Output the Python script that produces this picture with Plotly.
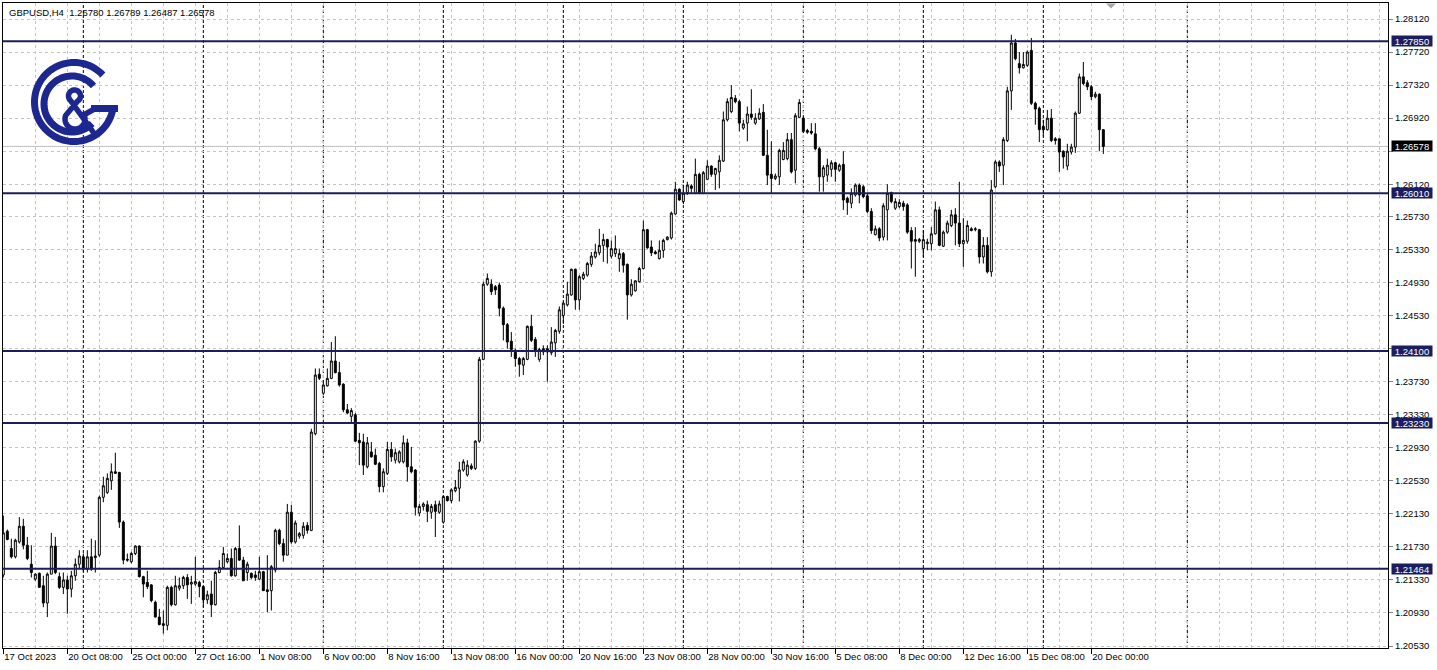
import numpy as np
import plotly.graph_objects as go

# ---------------- data ----------------
chart_title = "GBPUSD,H4\u00a0\u00a01.26780 1.26789 1.26487 1.26578"

opens = [
    1.2139, 1.2192, 1.2171, 1.2161, 1.2179, 1.2198, 1.2175, 1.2152, 1.2134, 1.2141,
    1.2126, 1.2105, 1.2140, 1.2174, 1.2137, 1.2124, 1.2133, 1.2122, 1.2138, 1.2152,
    1.2161, 1.2146, 1.2161, 1.2160, 1.2163, 1.2233, 1.2239, 1.2253, 1.2264, 1.2263,
    1.2203, 1.2158, 1.2155, 1.2165, 1.2174, 1.2137, 1.2130, 1.2127, 1.2106, 1.2088,
    1.2080, 1.2078, 1.2124, 1.2103, 1.2123, 1.2126, 1.2136, 1.2128, 1.2128, 1.2130,
    1.2125, 1.2109, 1.2116, 1.2103, 1.2142, 1.2148, 1.2155, 1.2159, 1.2138, 1.2171,
    1.2157, 1.2142, 1.2141, 1.2139, 1.2134, 1.2143, 1.2121, 1.2120, 1.2145, 1.2193,
    1.2177, 1.2163, 1.2215, 1.2179, 1.2186, 1.2187, 1.2199, 1.2193, 1.2310, 1.2382,
    1.2359, 1.2368, 1.2377, 1.2398, 1.2384, 1.2370, 1.2339, 1.2331, 1.2333, 1.2302,
    1.2300, 1.2270, 1.2288, 1.2284, 1.2274, 1.2246, 1.2262, 1.2291, 1.2278, 1.2276,
    1.2276, 1.2299, 1.2270, 1.2266, 1.2214, 1.2222, 1.2224, 1.2215, 1.2224, 1.2215,
    1.2203, 1.2234, 1.2229, 1.2241, 1.2244, 1.2266, 1.2260, 1.2271, 1.2268, 1.2301,
    1.2400, 1.2491, 1.2491, 1.2488, 1.2490, 1.2462, 1.2442, 1.2422, 1.2411, 1.2401,
    1.2393, 1.2400, 1.2440, 1.2424, 1.2400, 1.2409, 1.2413, 1.2408, 1.2420, 1.2434,
    1.2453, 1.2466, 1.2478, 1.2509, 1.2472, 1.2498, 1.2502, 1.2515, 1.2524, 1.2529,
    1.2538, 1.2545, 1.2525, 1.2528, 1.2522, 1.2528, 1.2515, 1.2478, 1.2483, 1.2494,
    1.2510, 1.2557, 1.2536, 1.2530, 1.2522, 1.2532, 1.2545, 1.2547, 1.2576, 1.2606,
    1.2591, 1.2602, 1.2610, 1.2601, 1.2624, 1.2601, 1.2618, 1.2634, 1.2624, 1.2627,
    1.2640, 1.2690, 1.2700, 1.2716, 1.2712, 1.2680, 1.2686, 1.2697, 1.2686, 1.2691,
    1.2699, 1.2647, 1.2624, 1.2619, 1.2621, 1.2642, 1.2643, 1.2666, 1.2629, 1.2693,
    1.2692, 1.2677, 1.2676, 1.2673, 1.2655, 1.2621, 1.2623, 1.2630, 1.2638, 1.2629,
    1.2636, 1.2595, 1.2589, 1.2599, 1.2611, 1.2609, 1.2598, 1.2579, 1.2551, 1.2558,
    1.2548, 1.2581, 1.2602, 1.2583, 1.2585, 1.2589, 1.2587, 1.2556, 1.2545, 1.2543,
    1.2534, 1.2540, 1.2540, 1.2552, 1.2581, 1.2537, 1.2554, 1.2562, 1.2575, 1.2565,
    1.2540, 1.2543, 1.2558, 1.2557, 1.2557, 1.2524, 1.2538, 1.2506, 1.2609, 1.2639,
    1.2635, 1.2665, 1.2725, 1.2783, 1.2758, 1.2753, 1.2756, 1.2774, 1.2710, 1.2704,
    1.2682, 1.2678, 1.2692, 1.2667, 1.2667, 1.2652, 1.2634, 1.2651, 1.2657, 1.2698,
    1.2742, 1.2735, 1.2730, 1.2718, 1.2721, 1.26780,
]

highs = [
    1.2211, 1.2194, 1.2183, 1.2183, 1.2209, 1.2207, 1.2185, 1.2175, 1.2141, 1.2142,
    1.2138, 1.2142, 1.2190, 1.2185, 1.2142, 1.2142, 1.2138, 1.2144, 1.2159, 1.2169,
    1.2165, 1.2169, 1.2183, 1.2181, 1.2235, 1.2258, 1.2262, 1.2274, 1.2287, 1.2264,
    1.2205, 1.2165, 1.2167, 1.2175, 1.2175, 1.2138, 1.2144, 1.2128, 1.2108, 1.2098,
    1.2096, 1.2126, 1.2126, 1.2138, 1.2136, 1.2138, 1.2140, 1.2138, 1.2161, 1.2132,
    1.2126, 1.2120, 1.2132, 1.2144, 1.2157, 1.2173, 1.2165, 1.2171, 1.2173, 1.2199,
    1.2161, 1.2155, 1.2142, 1.2144, 1.2161, 1.2144, 1.2163, 1.2151, 1.2195, 1.2195,
    1.2183, 1.2225, 1.2224, 1.2205, 1.2191, 1.2203, 1.2203, 1.2316, 1.2389, 1.2389,
    1.2375, 1.2389, 1.2421, 1.2428, 1.2397, 1.2371, 1.2346, 1.2341, 1.2335, 1.2311,
    1.2310, 1.2306, 1.2300, 1.2292, 1.2276, 1.2268, 1.2300, 1.2300, 1.2292, 1.2290,
    1.2308, 1.2304, 1.2294, 1.2267, 1.2225, 1.2227, 1.2229, 1.2225, 1.2229, 1.2229,
    1.2235, 1.2235, 1.2244, 1.2254, 1.2276, 1.2279, 1.2278, 1.2274, 1.2302, 1.2403,
    1.2494, 1.2504, 1.2497, 1.2490, 1.2493, 1.2464, 1.2444, 1.2433, 1.2413, 1.2403,
    1.2403, 1.2441, 1.2454, 1.2427, 1.2414, 1.2417, 1.2417, 1.2439, 1.2437, 1.2464,
    1.2470, 1.2494, 1.2510, 1.2510, 1.2502, 1.2506, 1.2518, 1.2530, 1.2540, 1.2558,
    1.2552, 1.2546, 1.2544, 1.2550, 1.2534, 1.2530, 1.2516, 1.2497, 1.2496, 1.2512,
    1.2568, 1.2558, 1.2544, 1.2532, 1.2544, 1.2546, 1.2549, 1.2579, 1.2615, 1.2607,
    1.2611, 1.2615, 1.2612, 1.2643, 1.2626, 1.2628, 1.2641, 1.2635, 1.2632, 1.2647,
    1.2700, 1.2716, 1.2732, 1.2720, 1.2714, 1.2690, 1.2706, 1.2727, 1.2698, 1.2704,
    1.2709, 1.2678, 1.2664, 1.2625, 1.2655, 1.2663, 1.2674, 1.2674, 1.2698, 1.2715,
    1.2694, 1.2679, 1.2686, 1.2686, 1.2657, 1.2635, 1.2643, 1.2641, 1.2639, 1.2637,
    1.2652, 1.2597, 1.2607, 1.2613, 1.2613, 1.2611, 1.2601, 1.2583, 1.2562, 1.2560,
    1.2589, 1.2612, 1.2603, 1.2595, 1.2594, 1.2592, 1.2589, 1.2560, 1.2560, 1.2547,
    1.2556, 1.2546, 1.2560, 1.2591, 1.2585, 1.2556, 1.2568, 1.2581, 1.2583, 1.2615,
    1.2571, 1.2568, 1.2560, 1.2560, 1.2558, 1.2548, 1.2548, 1.2617, 1.2641, 1.2641,
    1.2669, 1.2730, 1.2793, 1.2788, 1.2772, 1.2772, 1.2774, 1.2789, 1.2712, 1.2706,
    1.2690, 1.2702, 1.2703, 1.2669, 1.2667, 1.2653, 1.2661, 1.2661, 1.2700, 1.2746,
    1.2760, 1.2738, 1.2732, 1.2724, 1.2722, 1.26789,
]

lows = [
    1.2136, 1.2181, 1.2159, 1.2159, 1.2177, 1.2170, 1.2157, 1.2136, 1.2132, 1.2124,
    1.2100, 1.2088, 1.2140, 1.2140, 1.2122, 1.2116, 1.2092, 1.2112, 1.2132, 1.2146,
    1.2143, 1.2142, 1.2144, 1.2142, 1.2161, 1.2227, 1.2237, 1.2242, 1.2262, 1.2196,
    1.2152, 1.2155, 1.2153, 1.2163, 1.2136, 1.2112, 1.2122, 1.2106, 1.2088, 1.2078,
    1.2068, 1.2072, 1.2101, 1.2102, 1.2120, 1.2122, 1.2110, 1.2104, 1.2126, 1.2112,
    1.2100, 1.2104, 1.2088, 1.2102, 1.2141, 1.2146, 1.2153, 1.2137, 1.2137, 1.2156,
    1.2132, 1.2132, 1.2134, 1.2132, 1.2133, 1.2120, 1.2094, 1.2096, 1.2142, 1.2175,
    1.2155, 1.2163, 1.2177, 1.2177, 1.2183, 1.2183, 1.2189, 1.2192, 1.2308, 1.2375,
    1.2357, 1.2367, 1.2376, 1.2383, 1.2367, 1.2336, 1.2334, 1.2324, 1.2300, 1.2272,
    1.2260, 1.2268, 1.2281, 1.2272, 1.2239, 1.2239, 1.2260, 1.2276, 1.2274, 1.2274,
    1.2274, 1.2252, 1.2262, 1.2211, 1.2210, 1.2217, 1.2203, 1.2207, 1.2185, 1.2213,
    1.2201, 1.2228, 1.2226, 1.2239, 1.2228, 1.2264, 1.2258, 1.2266, 1.2266, 1.2299,
    1.2399, 1.2489, 1.2478, 1.2478, 1.2452, 1.2423, 1.2413, 1.2403, 1.2391, 1.2379,
    1.2381, 1.2399, 1.2421, 1.2403, 1.2397, 1.2405, 1.2373, 1.2405, 1.2403, 1.2431,
    1.2443, 1.2464, 1.2477, 1.2460, 1.2460, 1.2496, 1.2500, 1.2512, 1.2522, 1.2526,
    1.2518, 1.2516, 1.2522, 1.2524, 1.2506, 1.2505, 1.2448, 1.2476, 1.2482, 1.2493,
    1.2509, 1.2534, 1.2525, 1.2527, 1.2521, 1.2523, 1.2544, 1.2545, 1.2575, 1.2592,
    1.2588, 1.2599, 1.2601, 1.2600, 1.2600, 1.2600, 1.2617, 1.2621, 1.2605, 1.2607,
    1.2639, 1.2688, 1.2698, 1.2710, 1.2676, 1.2678, 1.2664, 1.2690, 1.2684, 1.2690,
    1.2646, 1.2611, 1.2601, 1.2617, 1.2611, 1.2641, 1.2641, 1.2625, 1.2613, 1.2692,
    1.2674, 1.2673, 1.2672, 1.2653, 1.2603, 1.2603, 1.2615, 1.2621, 1.2615, 1.2627,
    1.2581, 1.2575, 1.2583, 1.2597, 1.2589, 1.2595, 1.2577, 1.2552, 1.2550, 1.2543,
    1.2544, 1.2544, 1.2589, 1.2581, 1.2583, 1.2580, 1.2552, 1.2510, 1.2500, 1.2541,
    1.2524, 1.2532, 1.2532, 1.2551, 1.2537, 1.2536, 1.2552, 1.2560, 1.2538, 1.2536,
    1.2512, 1.2540, 1.2555, 1.2555, 1.2516, 1.2516, 1.2504, 1.2500, 1.2607, 1.2627,
    1.2611, 1.2663, 1.2702, 1.2762, 1.2746, 1.2752, 1.2754, 1.2708, 1.2684, 1.2663,
    1.2670, 1.2677, 1.2663, 1.2660, 1.2627, 1.2631, 1.2629, 1.2648, 1.2650, 1.2697,
    1.2732, 1.2726, 1.2714, 1.2716, 1.2652, 1.26487,
]

closes = [
    1.2190, 1.2182, 1.2161, 1.2181, 1.2198, 1.2175, 1.2159, 1.2142, 1.2140, 1.2124,
    1.2105, 1.2140, 1.2174, 1.2142, 1.2124, 1.2133, 1.2122, 1.2138, 1.2152, 1.2162,
    1.2146, 1.2161, 1.2146, 1.2162, 1.2233, 1.2247, 1.2256, 1.2264, 1.2262, 1.2203,
    1.2157, 1.2157, 1.2165, 1.2174, 1.2137, 1.2128, 1.2125, 1.2108, 1.2088, 1.2079,
    1.2078, 1.2124, 1.2103, 1.2126, 1.2126, 1.2136, 1.2127, 1.2130, 1.2131, 1.2125,
    1.2109, 1.2115, 1.2103, 1.2142, 1.2148, 1.2165, 1.2159, 1.2138, 1.2171, 1.2157,
    1.2132, 1.2152, 1.2136, 1.2136, 1.2143, 1.2120, 1.2119, 1.2149, 1.2193, 1.2177,
    1.2163, 1.2215, 1.2179, 1.2202, 1.2189, 1.2198, 1.2193, 1.2312, 1.2381, 1.2377,
    1.2369, 1.2377, 1.2398, 1.2384, 1.2369, 1.2339, 1.2335, 1.2338, 1.2301, 1.2299,
    1.2272, 1.2299, 1.2282, 1.2273, 1.2246, 1.2264, 1.2291, 1.2282, 1.2287, 1.2288,
    1.2299, 1.2270, 1.2264, 1.2221, 1.2222, 1.2225, 1.2216, 1.2222, 1.2216, 1.2225,
    1.2234, 1.2229, 1.2242, 1.2245, 1.2266, 1.2276, 1.2272, 1.2268, 1.2301, 1.2400,
    1.2491, 1.2498, 1.2482, 1.2484, 1.2462, 1.2442, 1.2421, 1.2412, 1.2401, 1.2394,
    1.2401, 1.2440, 1.2423, 1.2410, 1.2412, 1.2413, 1.2409, 1.2421, 1.2435, 1.2460,
    1.2468, 1.2479, 1.2509, 1.2472, 1.2500, 1.2503, 1.2516, 1.2525, 1.2530, 1.2538,
    1.2545, 1.2536, 1.2534, 1.2534, 1.2528, 1.2514, 1.2478, 1.2491, 1.2495, 1.2510,
    1.2557, 1.2535, 1.2529, 1.2528, 1.2532, 1.2544, 1.2548, 1.2577, 1.2606, 1.2593,
    1.2601, 1.2611, 1.2607, 1.2624, 1.2601, 1.2626, 1.2634, 1.2624, 1.2631, 1.2641,
    1.2690, 1.2712, 1.2717, 1.2712, 1.2686, 1.2685, 1.2697, 1.2693, 1.2692, 1.2698,
    1.2647, 1.2623, 1.2619, 1.2622, 1.2653, 1.2653, 1.2666, 1.2627, 1.2695, 1.2711,
    1.2676, 1.2675, 1.2674, 1.2655, 1.2621, 1.2632, 1.2635, 1.2638, 1.2630, 1.2635,
    1.2593, 1.2590, 1.2601, 1.2611, 1.2599, 1.2597, 1.2579, 1.2556, 1.2558, 1.2547,
    1.2586, 1.2601, 1.2591, 1.2591, 1.2590, 1.2585, 1.2554, 1.2543, 1.2543, 1.2545,
    1.2545, 1.2542, 1.2552, 1.2581, 1.2538, 1.2554, 1.2565, 1.2575, 1.2565, 1.2540,
    1.2544, 1.2562, 1.2556, 1.2558, 1.2524, 1.2538, 1.2506, 1.2605, 1.2639, 1.2634,
    1.2666, 1.2725, 1.2783, 1.2764, 1.2753, 1.2757, 1.2772, 1.2710, 1.2703, 1.2678,
    1.2678, 1.2692, 1.2665, 1.2665, 1.2651, 1.2645, 1.2652, 1.2657, 1.2698, 1.2742,
    1.2734, 1.2730, 1.2718, 1.2721, 1.2678, 1.26578,
]

bar_index = list(range(len(opens)))

x_tick_index = [0, 16, 32, 48, 64, 80, 96, 112, 128, 144, 160, 176, 192, 208, 224, 240, 256, 272]
x_tick_labels = ["17 Oct 2023", "20 Oct 08:00", "25 Oct 00:00", "27 Oct 16:00", "1 Nov 08:00",
                 "6 Nov 00:00", "8 Nov 16:00", "13 Nov 08:00", "16 Nov 00:00", "20 Nov 16:00",
                 "23 Nov 08:00", "28 Nov 00:00", "30 Nov 16:00", "5 Dec 08:00", "8 Dec 00:00",
                 "12 Dec 16:00", "15 Dec 08:00", "20 Dec 00:00"]
x_grid_index = list(range(8, 346, 8))
week_separator_index = [20, 50, 80, 110, 140, 170, 200, 230, 260, 296]

y_tick_values = [1.28120, 1.27720, 1.27320, 1.26920, 1.26520, 1.26120, 1.25730, 1.25330,
                 1.24930, 1.24530, 1.24130, 1.23730, 1.23330, 1.22930, 1.22530, 1.22130,
                 1.21730, 1.21330, 1.20930, 1.20530]
# labels fully hidden behind the price boxes in the reference are left blank
y_tick_labels = ["1.28120", "1.27720", "1.27320", "1.26920", "", "1.26120", "1.25730", "1.25330",
                 "1.24930", "1.24530", "", "1.23730", "1.23330", "1.22930", "1.22530", "1.22130",
                 "1.21730", "1.21330", "1.20930", "1.20530"]

level_prices = [1.27850, 1.26010, 1.24100, 1.23230, 1.21464]
level_labels = ["1.27850", "1.26010", "1.24100", "1.23230", "1.21464"]
bid_price = 1.26578
bid_label = "1.26578"

# ---------------- layout constants ----------------
W, H = 1437, 670
ML, MR, MT, MB = 3, 49, 3, 22
PW, PH = W - ML - MR, H - MT - MB
X_RANGE = [-0.0825, 346.1675]
Y_RANGE = [1.20506, 1.28314]

NAVY = "#1b1e5e"
LOGO = "#1c2790"
GRID = "#c4c4c4"
FONT = "Liberation Sans, Arial, sans-serif"
FS = 9.5


def to_paper(X, Y):
    return (X - ML) / PW, (MT + PH - Y) / PH


def poly_path(points):
    parts = []
    for k, (X, Y) in enumerate(points):
        px, py = to_paper(X, Y)
        parts.append(("M" if k == 0 else "L") + "%.5f,%.5f" % (px, py))
    return " ".join(parts)


def arc(cx, cy, r, a0, a1, n=80):
    a = np.radians(np.linspace(a0, a1, n))
    return list(zip(cx + r * np.cos(a), cy - r * np.sin(a)))


fig = go.Figure()

fig.add_trace(go.Candlestick(
    x=bar_index, open=opens, high=highs, low=lows, close=closes,
    increasing=dict(line=dict(color="black", width=1), fillcolor="white"),
    decreasing=dict(line=dict(color="black", width=1), fillcolor="black"),
    whiskerwidth=0, hoverinfo="skip", showlegend=False,
))

shapes = []
for i in week_separator_index:
    shapes.append(dict(type="line", xref="x", yref="paper", x0=i, x1=i, y0=0, y1=1,
                       line=dict(color="black", width=1, dash="3px,2px"), layer="between"))
shapes.append(dict(type="line", xref="paper", yref="y", x0=0, x1=1, y0=bid_price, y1=bid_price,
                   line=dict(color="#c0c0c0", width=1), layer="between"))
for p in level_prices:
    shapes.append(dict(type="line", xref="paper", yref="y", x0=0, x1=1, y0=p, y1=p,
                       line=dict(color=NAVY, width=2), layer="above"))

# logo (G & C)
logo_line = dict(color=LOGO, width=7)
shapes.append(dict(type="path", xref="paper", yref="paper", layer="above",
                   path=poly_path(arc(74, 102, 39.5, 43, 352)), line=logo_line))
shapes.append(dict(type="path", xref="paper", yref="paper", layer="above",
                   path=poly_path([(91, 108.5), (118, 108.5)]), line=logo_line))
shapes.append(dict(type="path", xref="paper", yref="paper", layer="above",
                   path=poly_path(arc(72, 104, 28, 40, 316)), line=logo_line))
amp = [(93.5, 109.5)] + arc(75, 119, 10, 25, -200, 60) + arc(74.5, 96, 6, -60, 230, 50) + [(94.5, 134)]
shapes.append(dict(type="path", xref="paper", yref="paper", layer="above",
                   path=poly_path(amp), line=dict(color=LOGO, width=5.5)))

tri = [to_paper(1106, 3.5), to_paper(1116, 3.5), to_paper(1111, 8.5)]
shapes.append(dict(type="path", xref="paper", yref="paper", layer="above",
                   path="M%.5f,%.5f L%.5f,%.5f L%.5f,%.5f Z" % (tri[0] + tri[1] + tri[2]),
                   fillcolor="#a8a8a8", line=dict(width=0)))

annotations = [dict(xref="paper", yref="paper", x=0, y=1, xanchor="left", yanchor="top",
                    xshift=4, yshift=-2, text=chart_title, showarrow=False,
                    font=dict(family=FONT, size=FS, color="black"))]
for p, t in zip(level_prices, level_labels):
    annotations.append(dict(xref="paper", yref="y", x=1, y=p, xanchor="left", yanchor="middle",
                            xshift=3, text=t, showarrow=False, bgcolor=NAVY, borderpad=0,
                            width=40, height=10, align="center",
                            font=dict(family=FONT, size=FS, color="white")))
annotations.append(dict(xref="paper", yref="y", x=1, y=bid_price, xanchor="left", yanchor="middle",
                        xshift=3, text=bid_label, showarrow=False, bgcolor="black", borderpad=0,
                        width=40, height=10, align="center",
                        font=dict(family=FONT, size=FS, color="white")))

fig.update_layout(
    width=W, height=H,
    margin=dict(l=ML, r=MR, t=MT, b=MB, pad=0, autoexpand=False),
    paper_bgcolor="white", plot_bgcolor="white",
    showlegend=False, hovermode=False,
    shapes=shapes, annotations=annotations,
    font=dict(family=FONT, size=FS, color="black"),
    xaxis=dict(
        range=X_RANGE, rangeslider=dict(visible=False), fixedrange=True,
        automargin=False, tickangle=0,
        tickmode="array", tickvals=x_tick_index, ticktext=x_tick_labels,
        ticks="outside", ticklen=5, tickcolor="black", tickwidth=1,
        ticklabelposition="outside right",
        tickfont=dict(family=FONT, size=FS, color="black"),
        showgrid=False, zeroline=False,
        showline=True, mirror=True, linecolor="black", linewidth=1,
        minor=dict(tickmode="array", tickvals=x_grid_index, showgrid=True,
                   gridcolor=GRID, griddash="3px,3px", gridwidth=1, ticks=""),
    ),
    yaxis=dict(
        range=Y_RANGE, side="right", fixedrange=True, automargin=False,
        tickmode="array", tickvals=y_tick_values, ticktext=y_tick_labels,
        ticks="outside", ticklen=4, tickcolor="#808080", tickwidth=1,
        tickfont=dict(family=FONT, size=FS, color="black"),
        showgrid=True, gridcolor=GRID, griddash="3px,3px", gridwidth=1,
        zeroline=False,
        showline=True, mirror=True, linecolor="black", linewidth=1,
    ),
)

fig.write_html("out.html", config={"displayModeBar": False, "staticPlot": True},
               post_script="document.body.style.margin='0';document.body.style.overflow='hidden';")
